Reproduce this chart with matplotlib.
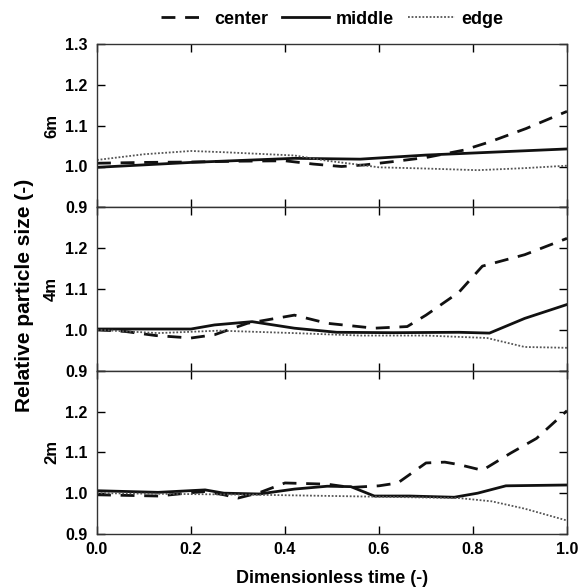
import matplotlib
matplotlib.use("Agg")
import matplotlib.pyplot as plt
from matplotlib.lines import Line2D

plt.rcParams['font.family'] = ['Liberation Sans', 'DejaVu Sans']
plt.rcParams['font.weight'] = 'bold'

panels = ["6m", "4m", "2m"]

# 6m
c6_x = [0.0, 0.1, 0.2, 0.3, 0.4, 0.46, 0.52, 0.57, 0.63, 0.70, 0.78, 0.835, 0.913, 1.0]
c6_y = [1.008, 1.01, 1.011, 1.013, 1.014, 1.006, 1.0, 1.004, 1.012, 1.022, 1.04, 1.06, 1.093, 1.135]
m6_x = [0.0, 0.2, 0.42, 0.56, 0.70, 0.84, 1.0]
m6_y = [0.998, 1.01, 1.02, 1.018, 1.028, 1.035, 1.043]
e6_x = [0.0, 0.1, 0.2, 0.27, 0.42, 0.49, 0.56, 0.6, 0.7, 0.81, 0.91, 1.0]
e6_y = [1.016, 1.03, 1.038, 1.035, 1.027, 1.014, 1.004, 0.998, 0.995, 0.991, 0.996, 1.002]

# 4m
c4_x = [0.0, 0.06, 0.125, 0.2, 0.25, 0.32, 0.42, 0.49, 0.59, 0.66, 0.70, 0.77, 0.82, 0.91, 1.0]
c4_y = [1.0, 0.996, 0.986, 0.98, 0.988, 1.016, 1.036, 1.016, 1.004, 1.008, 1.036, 1.092, 1.156, 1.184, 1.224]
m4_x = [0.0, 0.2, 0.25, 0.33, 0.42, 0.51, 0.63, 0.77, 0.835, 0.91, 1.0]
m4_y = [1.002, 1.002, 1.012, 1.02, 1.004, 0.994, 0.993, 0.994, 0.992, 1.028, 1.062]
e4_x = [0.0, 0.13, 0.26, 0.42, 0.56, 0.70, 0.83, 0.91, 1.0]
e4_y = [1.0, 0.992, 0.998, 0.992, 0.986, 0.986, 0.98, 0.958, 0.956]

# 2m
c2_x = [0.0, 0.13, 0.2, 0.23, 0.27, 0.3, 0.345, 0.4, 0.49, 0.54, 0.6, 0.64, 0.70, 0.74, 0.77, 0.82, 0.88, 0.935, 1.0]
c2_y = [0.996, 0.993, 1.001, 1.004, 0.996, 0.988, 1.001, 1.025, 1.022, 1.014, 1.018, 1.025, 1.074, 1.076, 1.07, 1.056, 1.098, 1.134, 1.202]
m2_x = [0.0, 0.13, 0.23, 0.27, 0.345, 0.42, 0.49, 0.54, 0.59, 0.665, 0.76, 0.81, 0.87, 1.0]
m2_y = [1.006, 1.002, 1.008, 1.0, 0.998, 1.01, 1.017, 1.016, 0.993, 0.993, 0.99, 1.0, 1.018, 1.02]
e2_x = [0.0, 0.345, 0.56, 0.77, 0.84, 0.91, 1.0]
e2_y = [1.0, 0.996, 0.992, 0.988, 0.98, 0.962, 0.933]

data = [
    ((c6_x, c6_y), (m6_x, m6_y), (e6_x, e6_y)),
    ((c4_x, c4_y), (m4_x, m4_y), (e4_x, e4_y)),
    ((c2_x, c2_y), (m2_x, m2_y), (e2_x, e2_y)),
]
series_names = ["center", "middle", "edge"]
yticks = [0.9, 1.0, 1.1, 1.2, 1.3]
xticks = [0.0, 0.2, 0.4, 0.6, 0.8, 1.0]

styles = [
    dict(color="#111111", lw=2.0, dashes=(5, 3.5)),
    dict(color="#111111", lw=2.0, linestyle="-"),
    dict(color="#555555", lw=1.3, linestyle=(0, (1, 1))),
]

fig = plt.figure(figsize=(5.79, 5.88), dpi=100)
left, right = 97 / 579, 567 / 579
top, bottom = 1 - 44 / 588, 1 - 534 / 588
h = (top - bottom) / 3
axes = []
for i in range(3):
    ax = fig.add_axes([left, top - (i + 1) * h, right - left, h])
    axes.append(ax)
    for (x, y), st in zip(data[i], styles):
        ax.plot(x, y, **st)
    ax.set_xlim(0, 1)
    ax.set_ylim(0.9, 1.3)
    ax.set_yticks(yticks)
    labels = [f"{v:.1f}" for v in yticks]
    if i > 0:
        labels[-1] = ""
    ax.set_yticklabels(labels, fontsize=11.5, fontweight="bold")
    ax.set_xticks(xticks)
    ax.tick_params(direction="in", length=6, width=1, top=True, right=True, pad=7)
    ax.tick_params(axis="x", pad=6)
    if i < 2:
        ax.set_xticklabels([])
    else:
        ax.set_xticklabels([f"{v:.1f}" for v in xticks], fontsize=11.5, fontweight="bold")
        ax.set_xlabel("Dimensionless time (-)", fontsize=13, fontweight="bold", labelpad=9)
    ax.set_ylabel(panels[i], fontsize=12, fontweight="bold", labelpad=4)
    for s in ax.spines.values():
        s.set_linewidth(1.0)
        s.set_color("#333333")

fig.text(25 / 579, 1 - 295 / 588, "Relative particle size (-)", rotation=90,
         ha="center", va="center", fontsize=15, fontweight="bold")

handles = [Line2D([], [], **st) for st in styles]
fig.legend(handles, series_names, loc="center", bbox_to_anchor=((left + right) / 2, 1 - 19 / 588),
           ncol=3, frameon=False, handlelength=2.6, handletextpad=0.35,
           columnspacing=0.8, prop=dict(weight="bold", size=13))

fig.savefig("out.png", dpi=100)
